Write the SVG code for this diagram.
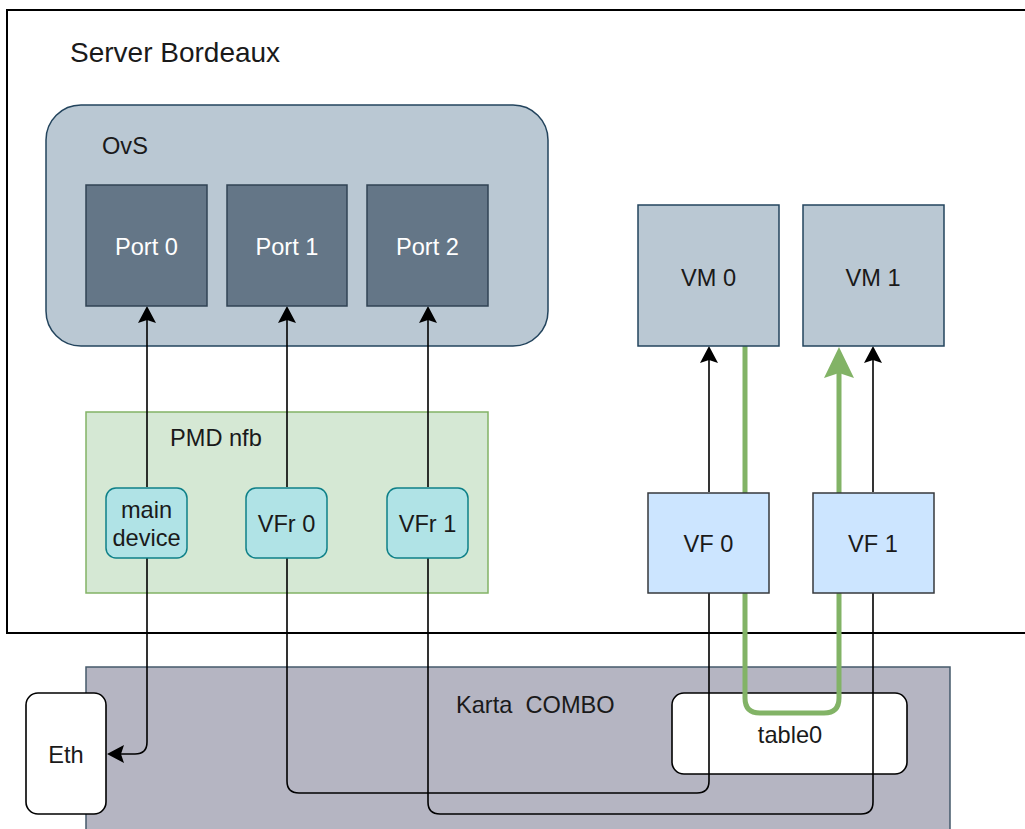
<svg xmlns="http://www.w3.org/2000/svg" width="1025" height="829" viewBox="0 0 1025 829">
<style>
text{font-family:"Liberation Sans",Arial,sans-serif;font-size:23.6px;fill:#1a1a1a}
.c{text-anchor:middle}
.port{fill:#647687;stroke:#314354;stroke-width:1.5}
.port+text,.wt{fill:#ffffff}
.vm{fill:#bac8d3;stroke:#23445d;stroke-width:1.5}
.vfr{fill:#b0e3e6;stroke:#0e8088;stroke-width:1.5}
.vf{fill:#cce5ff;stroke:#36393d;stroke-width:1.5}
.ln{fill:none;stroke:#000;stroke-width:1.6}
.gr{fill:none;stroke:#82b366;stroke-width:5}
</style>
<defs>
<marker id="ab" markerUnits="userSpaceOnUse" orient="auto" refX="0" refY="0" markerWidth="40" markerHeight="40" overflow="visible">
<path d="M14,0 L-3,-9 L0,0 L-3,9 Z" fill="#000"/>
</marker>
<marker id="ag" markerUnits="userSpaceOnUse" orient="auto" refX="0" refY="0" markerWidth="60" markerHeight="60" overflow="visible">
<path d="M26,0 L-5,-15 L0,0 L-5,15 Z" fill="#82b366"/>
</marker>
</defs>
<rect width="1025" height="829" fill="#fff"/>
<g id="server">
<rect x="7" y="10" width="1040" height="623" fill="#fff" stroke="#000" stroke-width="2"/>
<text x="70" y="62" style="font-size:28px">Server Bordeaux</text>
</g>
<g id="ovs">
<rect x="46" y="105" width="502" height="241" rx="35" ry="35" fill="#bac8d3" stroke="#23445d" stroke-width="1.5"/>
<text x="102" y="154">OvS</text>
</g>
<g id="pmd">
<rect x="86" y="412" width="402" height="181" fill="#d5e8d4" stroke="#82b366" stroke-width="1.5"/>
<text x="170" y="446">PMD nfb</text>
</g>
<g id="karta">
<rect x="86" y="667" width="864" height="200" fill="#b5b5c2" stroke="#455a6b" stroke-width="1.5"/>
<text x="456" y="713" xml:space="preserve">Karta  COMBO</text>
</g>
<g id="table0">
<rect x="672" y="693" width="235" height="81" rx="12" ry="12" fill="#fff" stroke="#000" stroke-width="1.6"/>
<text class="c" x="790" y="743">table0</text>
</g>
<g id="connectors">
<path class="ln" d="M147,487 L147,320" marker-end="url(#ab)"/>
<path class="ln" d="M147,558 L147,742 Q147,754 135,754 L121,754" marker-end="url(#ab)"/>
<path class="ln" d="M287,487 L287,320" marker-end="url(#ab)"/>
<path class="ln" d="M287,558 L287,781 Q287,793 299,793 L697,793 Q709,793 709,781 L709,593"/>
<path class="ln" d="M709,492 L709,360" marker-end="url(#ab)"/>
<path class="ln" d="M428,487 L428,320" marker-end="url(#ab)"/>
<path class="ln" d="M428,558 L428,802 Q428,814 440,814 L861,814 Q873,814 873,802 L873,593"/>
<path class="ln" d="M873,492 L873,360" marker-end="url(#ab)"/>
<path class="gr" d="M745,346 L745,698 Q745,713 760,713 L824,713 Q839,713 839,698 L839,373" marker-end="url(#ag)"/>
</g>
<g id="port0"><rect class="port" x="86" y="185" width="121" height="121"/><text class="c wt" x="146.5" y="255">Port 0</text></g>
<g id="port1"><rect class="port" x="227" y="185" width="120" height="121"/><text class="c wt" x="287" y="255">Port 1</text></g>
<g id="port2"><rect class="port" x="367" y="185" width="121" height="121"/><text class="c wt" x="427.5" y="255">Port 2</text></g>
<g id="vm0"><rect class="vm" x="638" y="205" width="141" height="141"/><text class="c" x="708.5" y="286">VM 0</text></g>
<g id="vm1"><rect class="vm" x="803" y="205" width="141" height="141"/><text class="c" x="873" y="286">VM 1</text></g>
<g id="maindevice"><rect class="vfr" x="106" y="488" width="81" height="70" rx="10" ry="10"/><text class="c" x="146.5" y="518">main</text><text class="c" x="146.5" y="546">device</text></g>
<g id="vfr0"><rect class="vfr" x="246" y="488" width="81" height="70" rx="10" ry="10"/><text class="c" x="286.5" y="532">VFr 0</text></g>
<g id="vfr1"><rect class="vfr" x="387" y="488" width="81" height="70" rx="10" ry="10"/><text class="c" x="427.5" y="532">VFr 1</text></g>
<g id="vf0"><rect class="vf" x="648" y="493" width="121" height="100"/><text class="c" x="708.5" y="552">VF 0</text></g>
<g id="vf1"><rect class="vf" x="813" y="493" width="121" height="100"/><text class="c" x="873" y="552">VF 1</text></g>
<g id="eth"><rect x="26" y="693" width="80" height="121" rx="12" ry="12" fill="#fff" stroke="#000" stroke-width="1.6"/><text class="c" x="66" y="763">Eth</text></g>
</svg>
